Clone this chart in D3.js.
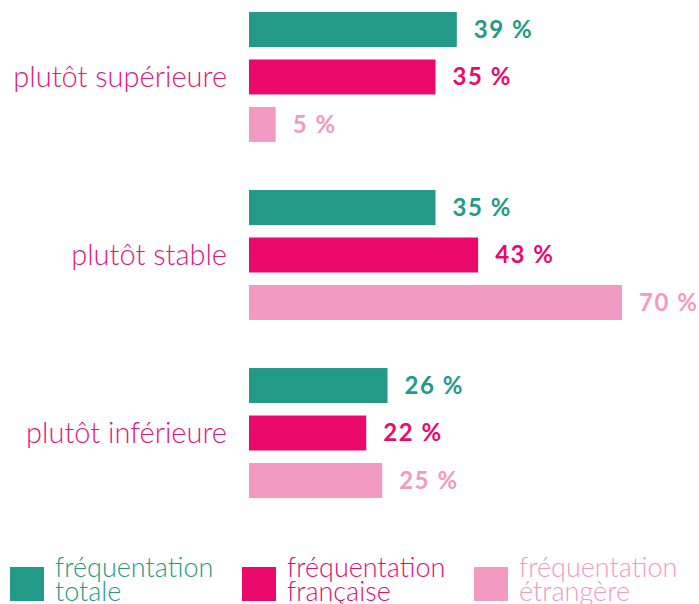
<!DOCTYPE html>
<html lang="fr">
<head>
<meta charset="utf-8">
<script src="https://cdn.jsdelivr.net/npm/d3@7"></script>
<style>
  html, body { margin: 0; padding: 0; background: #fff; }
  svg { display: block; font-family: Lato, "Noto Sans", sans-serif; }
</style>
</head>
<body>
<svg id="chart" width="699" height="604"></svg>
<script>
// Catégories (axe vertical) et séries
const categories = ["plutôt supérieure", "plutôt stable", "plutôt inférieure"];
const seriesKeys = ["totale", "française", "étrangère"];
const seriesLabels = [
  ["fréquentation", "totale"],
  ["fréquentation", "française"],
  ["fréquentation", "étrangère"],
];
const colors = ["#239a87", "#eb0a6b", "#f29ac2"];

// Valeurs en % par série, dans l'ordre des catégories
const valTotale = [39, 35, 26];
const valFrancaise = [35, 43, 22];
const valEtrangere = [5, 70, 25];
const values = [valTotale, valFrancaise, valEtrangere];

const svg = d3.select("#chart");

// Échelles : bande par catégorie, sous-bande par série, linéaire pour les %
const y0 = d3.scaleBand().domain(categories).range([12, 498]).paddingInner(0.27).paddingOuter(0);
const y1 = d3.scaleBand().domain(seriesKeys).range([0, y0.bandwidth()]).paddingInner(0.263);
const x = d3.scaleLinear().domain([0, 70]).range([249, 622]);

const rows = [];
categories.forEach((c, ci) => {
  seriesKeys.forEach((s, si) => rows.push({ cat: c, key: s, si, v: values[si][ci] }));
});

const groups = svg.selectAll(".grp").data(categories).join("g")
  .attr("class", "grp")
  .attr("transform", (c) => `translate(0,${y0(c)})`);

// Libellés de catégorie, alignés à droite devant les barres
groups.append("text")
  .attr("x", 227).attr("y", y0.bandwidth() / 2)
  .attr("dy", "0.36em").attr("text-anchor", "end")
  .style("font-size", "29px").style("font-weight", 300)
  .style("fill", "#e8147a")
  .text((c) => c);

groups.selectAll("rect")
  .data((c) => rows.filter((r) => r.cat === c))
  .join("rect")
  .attr("x", x(0))
  .attr("y", (d) => y1(d.key))
  .attr("width", (d) => x(d.v) - x(0))
  .attr("height", y1.bandwidth())
  .attr("fill", (d) => colors[d.si]);

groups.selectAll(".val")
  .data((c) => rows.filter((r) => r.cat === c))
  .join("text")
  .attr("class", "val")
  .attr("x", (d) => x(d.v) + 17)
  .attr("y", (d) => y1(d.key) + y1.bandwidth() / 2)
  .attr("dy", "0.35em")
  .style("font-size", "24px").style("font-weight", 700)
  .style("letter-spacing", "1.5px")
  .style("fill", (d) => colors[d.si])
  .text((d) => `${d.v} %`);

// Légende en bas (coupée par le bord inférieur comme dans l'original)
const legend = svg.selectAll(".leg").data(seriesKeys).join("g")
  .attr("class", "leg")
  .attr("transform", (d, i) => `translate(${10 + i * 232},567)`);

legend.append("rect")
  .attr("width", 34).attr("height", 34)
  .attr("fill", (d, i) => colors[i]);

legend.append("text")
  .attr("x", 45).attr("y", 10)
  .style("font-size", "27px").style("font-weight", 300)
  .style("fill", (d, i) => colors[i])
  .selectAll("tspan")
  .data((d, i) => seriesLabels[i])
  .join("tspan")
  .attr("x", 45)
  .attr("dy", (d, j) => (j === 0 ? 0 : 24))
  .text((t) => t);
</script>
</body>
</html>
